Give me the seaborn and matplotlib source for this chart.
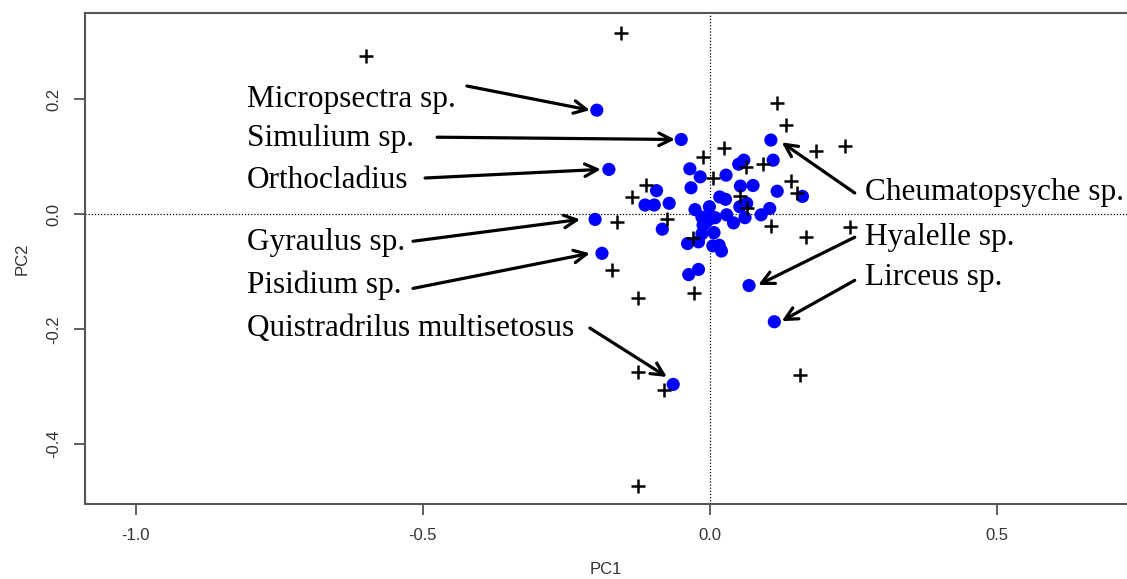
import matplotlib
matplotlib.use("Agg")
import matplotlib.pyplot as plt
import numpy as np
import pandas as pd
import seaborn as sns

# Species scores (blue points)
species_pc1 = [-0.197, -0.050, -0.176, 0.106, 0.110, -0.200, -0.188, -0.035, -0.017, -0.033,
               0.028, 0.050, 0.059, 0.053, 0.075, 0.117, 0.161, -0.093, -0.113, -0.097,
               -0.071, -0.083, 0.017, 0.027, -0.001, -0.026, 0.052, 0.064, 0.029, 0.041,
               0.061, 0.089, 0.104, -0.014, 0.000, 0.009, -0.012, -0.006, -0.014, 0.007,
               -0.039, -0.020, 0.005, 0.016, 0.020, -0.037, -0.020, 0.068, 0.112, -0.064]
species_pc2 = [0.181, 0.130, 0.078, 0.129, 0.094, -0.009, -0.068, 0.079, 0.065, 0.046,
               0.068, 0.087, 0.094, 0.049, 0.050, 0.040, 0.031, 0.041, 0.016, 0.016,
               0.019, -0.026, 0.030, 0.026, 0.013, 0.008, 0.013, 0.019, -0.001, -0.015,
               -0.006, -0.001, 0.010, -0.005, -0.008, -0.006, -0.019, -0.013, -0.034, -0.032,
               -0.051, -0.048, -0.055, -0.054, -0.064, -0.105, -0.096, -0.124, -0.187, -0.296]

# Site scores (black crosses)
site_pc1 = [-0.599, -0.155, 0.116, 0.132, 0.184, 0.025, -0.012, 0.006, 0.063, 0.093,
            0.141, 0.151, -0.112, -0.136, 0.053, 0.064, -0.074, -0.162, 0.106, 0.167,
            -0.029, -0.170, 0.235, 0.243, 0.157, -0.126, -0.027, -0.126, -0.080, -0.125]
site_pc2 = [0.275, 0.315, 0.193, 0.155, 0.110, 0.115, 0.100, 0.063, 0.082, 0.088,
            0.057, 0.037, 0.050, 0.030, 0.031, 0.010, -0.008, -0.013, -0.020, -0.039,
            -0.042, -0.097, 0.119, -0.022, -0.280, -0.146, -0.137, -0.274, -0.305, -0.473]

# Annotated species: label, label position, arrow tail, arrow head
labels = ["Micropsectra sp.", "Simulium sp.", "Orthocladius", "Gyraulus sp.",
          "Pisidium sp.", "Quistradrilus multisetosus", "Cheumatopsyche sp.",
          "Hyalelle sp.", "Lirceus sp."]
label_x = [-0.806, -0.806, -0.806, -0.806, -0.806, -0.806, 0.270, 0.270, 0.270]
label_y = [0.200, 0.132, 0.059, -0.050, -0.123, -0.198, 0.038, -0.040, -0.110]
tail_x = [-0.423, -0.475, -0.496, -0.517, -0.517, -0.209, 0.252, 0.252, 0.252]
tail_y = [0.223, 0.134, 0.063, -0.047, -0.129, -0.198, 0.037, -0.040, -0.115]
head_x = [-0.209, -0.061, -0.190, -0.226, -0.209, -0.075, 0.125, 0.084, 0.125]
head_y = [0.181, 0.130, 0.078, -0.009, -0.068, -0.283, 0.125, -0.123, -0.186]

species = pd.DataFrame({"PC1": species_pc1, "PC2": species_pc2})
sites = pd.DataFrame({"PC1": site_pc1, "PC2": site_pc2})

sns.set_style("white")
plt.rcParams["axes.unicode_minus"] = False
plt.rcParams["font.family"] = ["Liberation Sans", "DejaVu Sans"]

fig = plt.figure(figsize=(11.27, 5.79), dpi=100)
ax = fig.add_axes([85 / 1127, 75 / 579, 1 - 85 / 1127, 491 / 579])

# Zero lines
ax.axhline(0, color="black", linestyle=(0, (1, 1.5)), linewidth=0.9, zorder=1)
ax.axvline(0, color="black", linestyle=(0, (1, 1.5)), linewidth=0.9, zorder=1)

sns.scatterplot(data=sites, x="PC1", y="PC2", marker="+", color="black", s=90,
                linewidth=1.8, ax=ax, zorder=3)
sns.scatterplot(data=species, x="PC1", y="PC2", color="#0000ff", s=90,
                edgecolor="none", ax=ax, zorder=2)

for i, lab in enumerate(labels):
    ax.text(label_x[i], label_y[i], lab, family=["Liberation Serif", "DejaVu Serif"],
            fontsize=22.5, ha="left", va="center", color="black")
    ax.annotate("", xy=(head_x[i], head_y[i]), xytext=(tail_x[i], tail_y[i]),
                arrowprops=dict(arrowstyle="->,head_length=0.9,head_width=0.45",
                                color="black", lw=2.3, shrinkA=0, shrinkB=0))

ax.set_xlim(-1.088, 0.726)
ax.set_ylim(-0.504, 0.350)
ax.set_xticks([-1.0, -0.5, 0.0, 0.5])
ax.set_xticklabels(["-1.0", "-0.5", "0.0", "0.5"])
ax.set_yticks([-0.4, -0.2, 0.0, 0.2])
ax.set_yticklabels(["-0.4", "-0.2", "0.0", "0.2"], rotation=90, va="center")
ax.tick_params(axis="both", direction="out", length=8, width=1.2, color="#444444",
               labelsize=12, labelcolor="#333333", pad=9, bottom=True, left=True)
for side in ["left", "bottom", "top"]:
    ax.spines[side].set_color("#555555")
    ax.spines[side].set_linewidth(1.5)
ax.spines["right"].set_visible(False)

ax.set_xlabel("PC1", fontsize=12, color="#333333", labelpad=14)
ax.set_ylabel("PC2", fontsize=12, color="#333333", labelpad=12)

fig.savefig("out.png", dpi=100)
